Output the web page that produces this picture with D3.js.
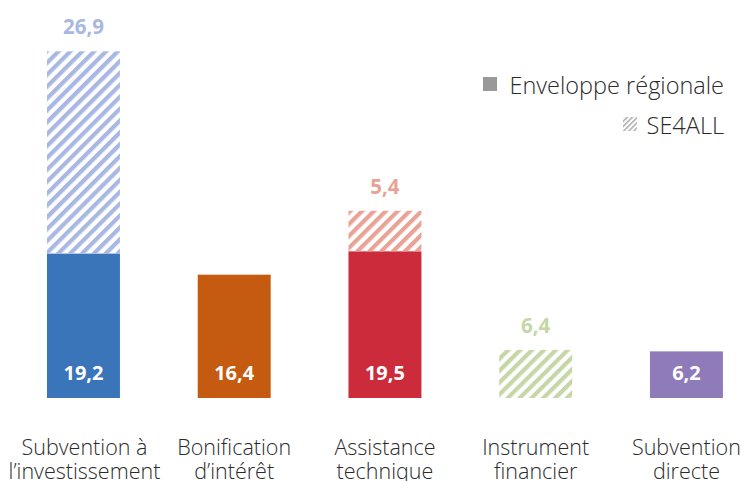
<!DOCTYPE html>
<html>
<head>
<meta charset="utf-8">
<script src="https://cdn.jsdelivr.net/npm/d3@7"></script>
<style>
  html, body { margin: 0; padding: 0; background: #fff; }
  svg { display: block; }
</style>
</head>
<body>
<div id="chart"></div>
<script>
// Financing instruments: regional envelope (solid) and SE4ALL (hatched), stacked
const categories = [
  ["Subvention à", "l’investissement"],
  ["Bonification", "d’intérêt"],
  ["Assistance", "technique"],
  ["Instrument", "financier"],
  ["Subvention", "directe"]
];
const regional = [19.2, 16.4, 19.5, 0, 6.2];
const se4all   = [26.9, 0, 5.4, 6.4, 0];
const solidColors = ["#3a74b9", "#c55a11", "#cc2b3b", "#9bb56a", "#8f7bb9"];
const hatchColors = ["#a9b8e3", "#e8a07c", "#e9a396", "#c6d6a6", "#b5a7d4"];
const legendLabels = ["Enveloppe régionale", "SE4ALL"];

const W = 741, H = 481;
const baseline = 398;
const svg = d3.select("#chart").append("svg").attr("width", W).attr("height", H);

const x = d3.scaleBand().domain(d3.range(categories.length))
  .range([9.3, 760.6]).paddingInner(0.516).paddingOuter(0.25);
const y = d3.scaleLinear().domain([0, 46.1]).range([baseline, baseline - 46.1 * 7.52]);

const fmt = v => d3.format(".1f")(v).replace(".", ",");

// diagonal hatch patterns, one per colour
const defs = svg.append("defs");
function hatch(id, color, size, stripe) {
  const p = defs.append("pattern").attr("id", id)
    .attr("patternUnits", "userSpaceOnUse").attr("width", size).attr("height", size)
    .attr("patternTransform", "rotate(45)");
  p.append("rect").attr("width", stripe).attr("height", size).attr("fill", color);
}
hatchColors.forEach((c, i) => hatch("hatch" + i, c, 8.4, 4.2));
hatch("hatchLegend", "#b0b0b0", 3.6, 1.6);

const g = svg.append("g");
categories.forEach((c, i) => {
  const x0 = x(i), bw = x.bandwidth();
  if (regional[i] > 0) {
    g.append("rect").attr("x", x0).attr("width", bw)
      .attr("y", y(regional[i])).attr("height", y(0) - y(regional[i]))
      .attr("fill", solidColors[i]);
    g.append("text").attr("x", x0 + bw / 2).attr("y", baseline - 18)
      .attr("text-anchor", "middle").attr("fill", "#fff")
      .attr("font-family", "'Open Sans', sans-serif").attr("font-weight", 700)
      .attr("font-size", 20).text(fmt(regional[i]));
  }
  if (se4all[i] > 0) {
    const top = regional[i] + se4all[i];
    g.append("rect").attr("x", x0).attr("width", bw)
      .attr("y", y(top)).attr("height", y(regional[i]) - y(top))
      .attr("fill", `url(#hatch${i})`);
    g.append("text").attr("x", x0 + bw / 2).attr("y", y(top) - 17)
      .attr("text-anchor", "middle").attr("fill", hatchColors[i])
      .attr("font-family", "'Open Sans', sans-serif").attr("font-weight", 700)
      .attr("font-size", 20.5).text(fmt(se4all[i]));
  }
  const t = g.append("text").attr("text-anchor", "middle")
    .attr("font-family", "'Open Sans', sans-serif").attr("font-weight", 300)
    .attr("font-size", 21.5).attr("fill", "#2b2b2b");
  c.forEach((line, k) => {
    t.append("tspan").attr("x", x0 + bw / 2 + (i === 0 ? 1 : 0)).attr("y", 455 + k * 24).text(line);
  });
});

// legend
const leg = svg.append("g").attr("font-family", "'Open Sans', sans-serif")
  .attr("font-weight", 300).attr("font-size", 23.5).attr("fill", "#2b2b2b");
leg.append("rect").attr("x", 483).attr("y", 77).attr("width", 14).attr("height", 14).attr("fill", "#999");
leg.append("text").attr("x", 724).attr("y", 94).attr("text-anchor", "end").text(legendLabels[0]);
leg.append("rect").attr("x", 623).attr("y", 117).attr("width", 14).attr("height", 14).attr("fill", "url(#hatchLegend)");
leg.append("text").attr("x", 724).attr("y", 134).attr("text-anchor", "end").text(legendLabels[1]);
</script>
</body>
</html>
